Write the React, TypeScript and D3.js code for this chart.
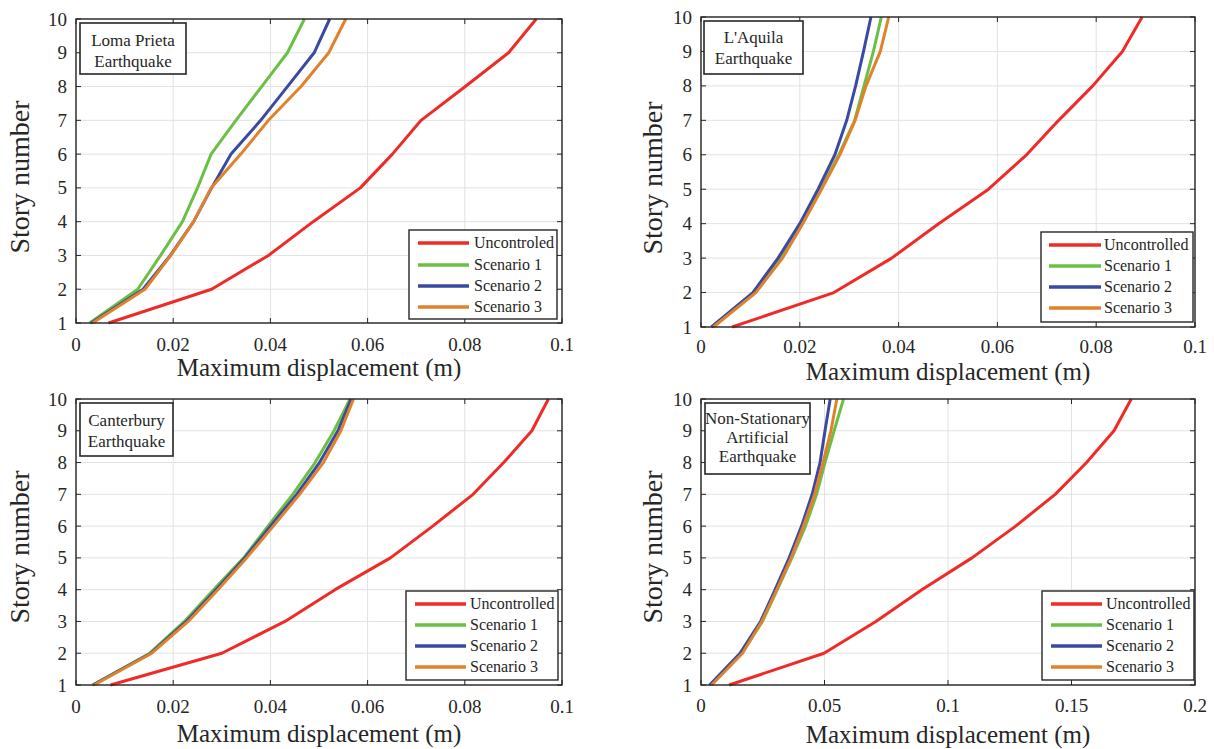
import React from "react";
import * as d3 from "d3";

// Story levels shared by every panel
const stories = [1, 2, 3, 4, 5, 6, 7, 8, 9, 10];

// Loma Prieta earthquake: peak displacement per story (m)
const lomaUncontrolled = [0.0067, 0.0279, 0.0396, 0.0488, 0.0585, 0.0651, 0.071, 0.0801, 0.089, 0.0947];
const lomaScenario1 = [0.0028, 0.0127, 0.0174, 0.0219, 0.025, 0.0278, 0.0329, 0.0382, 0.0435, 0.047];
const lomaScenario2 = [0.0031, 0.0138, 0.0194, 0.0242, 0.0279, 0.0319, 0.038, 0.0435, 0.049, 0.0522];
const lomaScenario3 = [0.0034, 0.0142, 0.0195, 0.0242, 0.0278, 0.0339, 0.0396, 0.0463, 0.052, 0.0555];

// L'Aquila earthquake
const aquilaUncontrolled = [0.0063, 0.0269, 0.0386, 0.0481, 0.0582, 0.0659, 0.0724, 0.0793, 0.0853, 0.0893];
const aquilaScenario1 = [0.0024, 0.0109, 0.0162, 0.0204, 0.0243, 0.0279, 0.0311, 0.033, 0.0349, 0.0365];
const aquilaScenario2 = [0.0021, 0.0105, 0.0156, 0.02, 0.0237, 0.0271, 0.0295, 0.0313, 0.0329, 0.0344];
const aquilaScenario3 = [0.0025, 0.0111, 0.0165, 0.0206, 0.0244, 0.0281, 0.0312, 0.0334, 0.0363, 0.038];

// Canterbury earthquake
const canterburyUncontrolled = [0.0071, 0.03, 0.043, 0.0533, 0.0647, 0.0734, 0.0817, 0.088, 0.0938, 0.0972];
const canterburyScenario1 = [0.0034, 0.0152, 0.0223, 0.0283, 0.0345, 0.0395, 0.0446, 0.0492, 0.0531, 0.0564];
const canterburyScenario2 = [0.0035, 0.0154, 0.0227, 0.0288, 0.0347, 0.04, 0.0454, 0.0501, 0.0539, 0.0566];
const canterburyScenario3 = [0.0037, 0.0156, 0.0231, 0.0292, 0.0351, 0.0406, 0.046, 0.0509, 0.0545, 0.0571];

// Non-stationary artificial earthquake
const artificialUncontrolled = [0.0114, 0.0498, 0.0708, 0.0894, 0.1097, 0.1274, 0.1434, 0.1561, 0.1672, 0.1742];
const artificialScenario1 = [0.004, 0.0165, 0.0249, 0.0309, 0.0368, 0.0423, 0.0468, 0.0502, 0.0539, 0.0577];
const artificialScenario2 = [0.0035, 0.0158, 0.0241, 0.03, 0.0357, 0.0407, 0.045, 0.0482, 0.0502, 0.0523];
const artificialScenario3 = [0.0043, 0.0168, 0.0246, 0.0307, 0.0365, 0.0415, 0.046, 0.0494, 0.0526, 0.055];

// Axis ticks
const xTicksSmall = [0, 0.02, 0.04, 0.06, 0.08, 0.1];
const xTickLabelsSmall = ["0", "0.02", "0.04", "0.06", "0.08", "0.1"];
const xTicksLarge = [0, 0.05, 0.1, 0.15, 0.2];
const xTickLabelsLarge = ["0", "0.05", "0.1", "0.15", "0.2"];

const legendLabelsLoma = ["Uncontroled", "Scenario 1", "Scenario 2", "Scenario 3"];
const legendLabels = ["Uncontrolled", "Scenario 1", "Scenario 2", "Scenario 3"];

const seriesColors = ["#ee2b27", "#6cbf45", "#3a4aa2", "#e0822c"];

const FONT = "Liberation Serif, DejaVu Serif, serif";
const INK = "#262626";

type Layout = {
  left: number; right: number; top: number; bottom: number;
  tickLabelGap: number; xLabelY: number; yLabelX: number; yLabelShift: number;
  legend: { x0: number; x1: number; y0: number; y1: number; lineX0: number; lineX1: number; textX: number; rows: number[] };
  note: { x0: number; x1: number; y0: number; y1: number; rows: number[] };
};

type PanelSpec = {
  layout: Layout;
  xMax: number;
  xTicks: number[];
  xTickLabels: string[];
  series: number[][];
  legend: string[];
  note: string[];
};

const panels: PanelSpec[] = [
  {
    layout: {
      left: 76, right: 562, top: 19, bottom: 323, tickLabelGap: 28, xLabelY: 376, yLabelX: 20, yLabelShift: 6,
      legend: { x0: 409, x1: 557, y0: 230, y1: 319, lineX0: 418, lineX1: 469, textX: 474, rows: [243, 265, 286, 307] },
      note: { x0: 80, x1: 186, y0: 23, y1: 74, rows: [40, 61] },
    },
    xMax: 0.1, xTicks: xTicksSmall, xTickLabels: xTickLabelsSmall,
    series: [lomaUncontrolled, lomaScenario1, lomaScenario2, lomaScenario3],
    legend: legendLabelsLoma, note: ["Loma Prieta", "Earthquake"],
  },
  {
    layout: {
      left: 701, right: 1195, top: 17, bottom: 327, tickLabelGap: 26, xLabelY: 380, yLabelX: 653, yLabelShift: 6,
      legend: { x0: 1041, x1: 1193, y0: 232, y1: 322, lineX0: 1049, lineX1: 1101, textX: 1104, rows: [245, 266, 287, 308] },
      note: { x0: 704, x1: 803, y0: 21, y1: 74, rows: [37, 58] },
    },
    xMax: 0.1, xTicks: xTicksSmall, xTickLabels: xTickLabelsSmall,
    series: [aquilaUncontrolled, aquilaScenario1, aquilaScenario2, aquilaScenario3],
    legend: legendLabels, note: ["L'Aquila", "Earthquake"],
  },
  {
    layout: {
      left: 76, right: 562, top: 399, bottom: 685, tickLabelGap: 27.5, xLabelY: 742, yLabelX: 20, yLabelShift: 5,
      legend: { x0: 406, x1: 558, y0: 591, y1: 680, lineX0: 415, lineX1: 466, textX: 470, rows: [604, 625, 646, 667] },
      note: { x0: 80, x1: 173, y0: 403, y1: 456, rows: [420, 441] },
    },
    xMax: 0.1, xTicks: xTicksSmall, xTickLabels: xTickLabelsSmall,
    series: [canterburyUncontrolled, canterburyScenario1, canterburyScenario2, canterburyScenario3],
    legend: legendLabels, note: ["Canterbury", "Earthquake"],
  },
  {
    layout: {
      left: 701, right: 1195, top: 399, bottom: 685, tickLabelGap: 26.5, xLabelY: 743, yLabelX: 653, yLabelShift: 5,
      legend: { x0: 1042, x1: 1194, y0: 591, y1: 680, lineX0: 1051, lineX1: 1102, textX: 1106, rows: [604, 625, 646, 667] },
      note: { x0: 705, x1: 810, y0: 403, y1: 474, rows: [418, 437, 456] },
    },
    xMax: 0.2, xTicks: xTicksLarge, xTickLabels: xTickLabelsLarge,
    series: [artificialUncontrolled, artificialScenario1, artificialScenario2, artificialScenario3],
    legend: legendLabels, note: ["Non-Stationary", "Artificial", "Earthquake"],
  },
];

function Panel({ spec }: { spec: PanelSpec }) {
  const L = spec.layout;
  const x = d3.scaleLinear().domain([0, spec.xMax]).range([L.left, L.right]);
  const y = d3.scaleLinear().domain([1, 10]).range([L.bottom, L.top]);
  const line = d3
    .line<number>()
    .x((v) => x(v))
    .y((_, i) => y(stories[i]));
  const tickLen = 5;
  const cx = (L.left + L.right) / 2;
  const cy = (L.top + L.bottom) / 2 + L.yLabelShift;
  const font = { fontFamily: FONT };

  return (
    <g>
      <rect x={L.left} y={L.top} width={L.right - L.left} height={L.bottom - L.top} fill="#fff" />
      {/* grid */}
      {spec.xTicks.map((t, i) => (
        <line key={"gx" + i} x1={x(t)} x2={x(t)} y1={L.top} y2={L.bottom} stroke="#e2e2e2" strokeWidth={1} />
      ))}
      {stories.map((s) => (
        <line key={"gy" + s} x1={L.left} x2={L.right} y1={y(s)} y2={y(s)} stroke="#e2e2e2" strokeWidth={1} />
      ))}
      {/* inward ticks on all four sides */}
      {spec.xTicks.map((t, i) => (
        <g key={"tx" + i}>
          <line x1={x(t)} x2={x(t)} y1={L.bottom} y2={L.bottom - tickLen} stroke={INK} strokeWidth={1} />
          <line x1={x(t)} x2={x(t)} y1={L.top} y2={L.top + tickLen} stroke={INK} strokeWidth={1} />
        </g>
      ))}
      {stories.map((s) => (
        <g key={"ty" + s}>
          <line x1={L.left} x2={L.left + tickLen} y1={y(s)} y2={y(s)} stroke={INK} strokeWidth={1} />
          <line x1={L.right} x2={L.right - tickLen} y1={y(s)} y2={y(s)} stroke={INK} strokeWidth={1} />
        </g>
      ))}
      {/* response curves */}
      {spec.series.map((vals, i) => (
        <path key={"s" + i} d={line(vals) || ""} fill="none" stroke={seriesColors[i]} strokeWidth={3} strokeLinejoin="round" />
      ))}
      {/* frame */}
      <rect x={L.left} y={L.top} width={L.right - L.left} height={L.bottom - L.top} fill="none" stroke={INK} strokeWidth={1.4} />
      {/* tick labels */}
      {spec.xTicks.map((t, i) => (
        <text key={"lx" + i} x={x(t)} y={L.bottom + L.tickLabelGap} textAnchor="middle" style={font} fontSize={19} fill={INK}>
          {spec.xTickLabels[i]}
        </text>
      ))}
      {stories.map((s) => (
        <text key={"ly" + s} x={L.left - 9} y={y(s) + 6.5} textAnchor="end" style={font} fontSize={19} fill={INK}>
          {String(s)}
        </text>
      ))}
      {/* axis titles */}
      <text x={cx} y={L.xLabelY} textAnchor="middle" style={font} fontSize={25} fill={INK}>
        Maximum displacement (m)
      </text>
      <text
        transform={`translate(${L.yLabelX + 9},${cy}) rotate(-90)`}
        textAnchor="middle"
        style={font}
        fontSize={28}
        fill={INK}
      >
        Story number
      </text>
      {/* event annotation */}
      <rect
        x={L.note.x0}
        y={L.note.y0}
        width={L.note.x1 - L.note.x0}
        height={L.note.y1 - L.note.y0}
        fill="#fff"
        stroke={INK}
        strokeWidth={1.6}
      />
      {spec.note.map((t, i) => (
        <text
          key={"n" + i}
          x={(L.note.x0 + L.note.x1) / 2}
          y={L.note.rows[i] + 5.5}
          textAnchor="middle"
          style={font}
          fontSize={17}
          fill={INK}
        >
          {t}
        </text>
      ))}
      {/* legend */}
      <rect
        x={L.legend.x0}
        y={L.legend.y0}
        width={L.legend.x1 - L.legend.x0}
        height={L.legend.y1 - L.legend.y0}
        fill="#fff"
        stroke={INK}
        strokeWidth={1.4}
      />
      {spec.legend.map((lab, i) => (
        <g key={"lg" + i}>
          <line
            x1={L.legend.lineX0}
            x2={L.legend.lineX1}
            y1={L.legend.rows[i]}
            y2={L.legend.rows[i]}
            stroke={seriesColors[i]}
            strokeWidth={3.5}
          />
          <text x={L.legend.textX} y={L.legend.rows[i] + 5} style={font} fontSize={16} fill={INK}>
            {lab}
          </text>
        </g>
      ))}
    </g>
  );
}

export default function App() {
  return (
    <svg
      width={1214}
      height={749}
      viewBox="0 0 1214 749"
      style={{ position: "absolute", left: 0, top: 0, background: "#fff" }}
    >
      {panels.map((p, i) => (
        <Panel key={i} spec={p} />
      ))}
    </svg>
  );
}
